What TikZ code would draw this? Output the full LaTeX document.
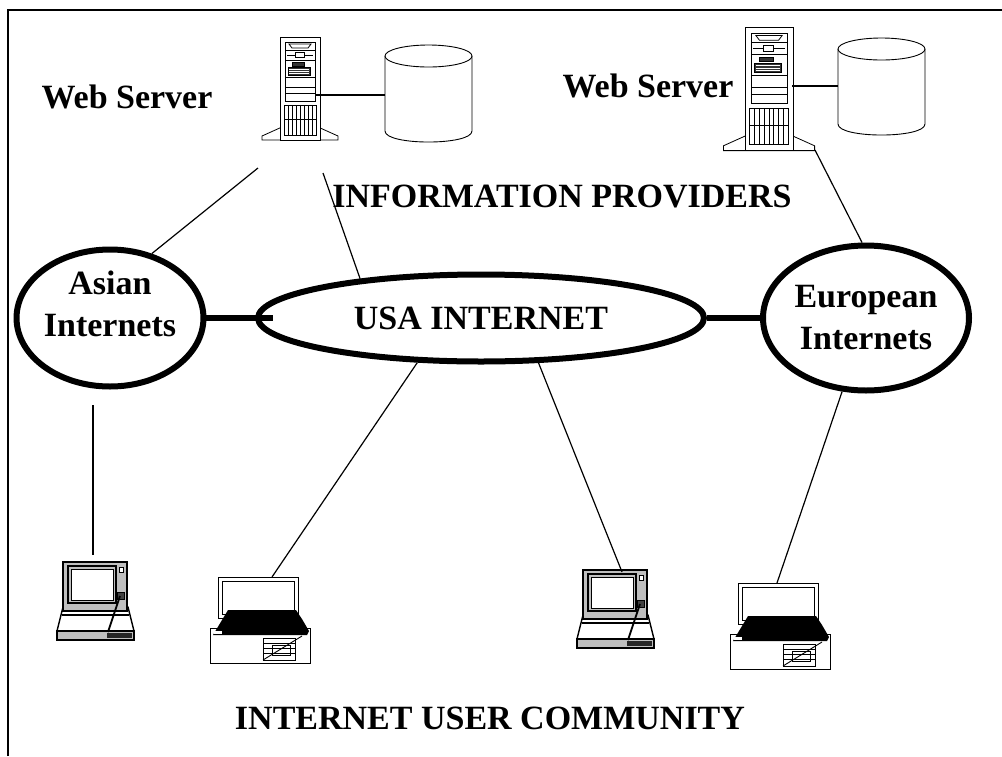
\documentclass[tikz,border=0pt]{standalone}
\usepackage{fontspec}
\setmainfont{Liberation Serif}
\usetikzlibrary{shapes.geometric}
\newcommand{\bigfont}{\bfseries\fontsize{34}{42}\selectfont}
% tower server, #1 = top left corner, #2 = scale
\newcommand{\webserver}[2]{
  \begin{scope}[shift={#1}, scale=#2, line width=0.8pt]
    \draw[fill=white] (2,90) -- (-18,99) -- (-18,103) -- (58,103) -- (58,99) -- (38,90);
    \draw[fill=white] (0,0) rectangle (40,103);
    \draw (5,5) rectangle (35,64);
    \foreach \y in {13,23,40,50,56} \draw (5,\y) -- (35,\y);
    \draw (9,7) -- (31,7) -- (28,11) -- (12,11) -- cycle;
    \draw (7,18) -- (33,18);
    \draw[fill=white] (15,15.5) rectangle (24,20.5);
    \draw[fill=black!80] (12,25) rectangle (24,29);
    \draw[fill=black!80] (8,30) rectangle (30,38);
    \foreach \y in {32,34,36} \draw[white, line width=0.4pt] (9,\y) -- (29,\y);
    \draw[fill=white] (4,68) rectangle (36,98);
    \foreach \x in {8,12,...,32} \draw (\x,68) -- (\x,98);
    \draw (4,82) -- (36,82);
  \end{scope}
}
% disk cylinder, #1 = top left corner, #2 = width, #3 = height
\newcommand{\datastore}[3]{
  \begin{scope}[shift={#1}, line width=0.9pt]
    \draw[fill=white] (0,11) -- (0,#3-11) .. controls (0,#3+3.7) and (#2,#3+3.7) .. (#2,#3-11) -- (#2,11);
    \draw[fill=white] (#2/2,11) ellipse [x radius=#2/2, y radius=11];
  \end{scope}
}
% notebook, #1 = top left corner of the lid
\newcommand{\laptop}[1]{
  \begin{scope}[shift={#1}, line width=1pt]
    \draw[fill=white, line width=1.4pt] (0,45) -- (65,45) -- (71,69) -- (-6,69) -- cycle;
    \draw[line width=1.6pt] (-1,53) -- (66,53);
    \draw[fill=black!25, line width=1.4pt] (0,0) rectangle (64,49);
    \draw[line width=1.4pt] (5,4) rectangle (53,41);
    \draw[fill=white] (8,7) rectangle (50,38);
    \draw[fill=white] (56,5) rectangle (60,10);
    \draw[fill=black!75] (54,30) rectangle (61,37);
    \draw[fill=black!25, line width=1.4pt] (-6,69) rectangle (71,78);
    \fill[black!85] (44,71) rectangle (69,76);
    \draw[line width=1.8pt] (57,34) -- (45,70);
  \end{scope}
}
% desk computer, #1 = top left corner of the case
\newcommand{\desktop}[1]{
  \begin{scope}[shift={#1}, line width=0.9pt]
    \draw[fill=white] (0,0) rectangle (100,35);
    \draw[fill=white] (8,-51) rectangle (88,-10);
    \draw (12,-47) rectangle (84,-14);
    \fill (18,-18) -- (86,-18) -- (92,-9) -- (99,3) -- (97,7) -- (3,7) -- cycle;
    \fill[white] (4,3) rectangle (12,5.5);
    \draw (53,10) rectangle (85,32);
    \foreach \y in {15,20,25} \draw (53,\y) -- (85,\y);
    \draw (62,17) rectangle (80,27);
    \draw (53,32) -- (92,8);
  \end{scope}
}
\begin{document}
\begin{tikzpicture}[x=1pt, y=-1pt,
  net/.style={draw, ellipse, line width=6pt, inner sep=0pt, align=center, fill=white, font=\bigfont},
  caption/.style={font=\bigfont},
  trunk/.style={line width=6pt},
  link/.style={line width=1.2pt}]
  \useasboundingbox (0,0) rectangle (1002,756);
  \draw[line width=1.5pt] (8,756) -- (8,10) -- (1002,10);

  % providers
  \webserver{(280,37)}{1}
  \webserver{(745,27)}{1.2}
  \datastore{(385,45)}{87}{97}
  \datastore{(838,38)}{87}{97}
  \coordinate (srvLport) at (315,95);
  \coordinate (dbLport) at (385,95);
  \coordinate (srvRport) at (792,86);
  \coordinate (dbRport) at (838,86);
  \draw[link] (srvLport) -- (dbLport);
  \draw[link] (srvRport) -- (dbRport);

  % users
  \laptop{(63,562)}
  \laptop{(583,570)}
  \desktop{(210,628)}
  \desktop{(730,634)}

  \node[caption] (wsleft) at (127,97) {Web Server};
  \node[caption] (wsright) at (648,86) {Web Server};
  \node[caption] (providers) at (562,196) {INFORMATION PROVIDERS};
  \node[caption] (community) at (490,718) {INTERNET USER COMMUNITY};

  % backbones
  \node[net, minimum width=182pt, minimum height=137pt, text depth=28pt] (asian) at (110,318) {Asian\\Internets};
  \node[net, minimum width=446pt, minimum height=87pt] (usa) at (481,318) {USA INTERNET};
  \node[net, minimum width=206pt, minimum height=145pt] (europe) at (866,318) {European\\Internets};
  \draw[trunk] (asian.east) -- ([xshift=18pt]usa.west);
  \draw[trunk] (usa.east) -- ([xshift=6pt]europe.west);

  \coordinate (srvLfoot) at (258,168);
  \coordinate (srvLfoot2) at (323,173);
  \coordinate (srvRfoot) at (815,150);
  \coordinate (asianbelow) at (93,405);
  \coordinate (lapAtop) at (93,555);
  \coordinate (deskAtop) at (272,577);
  \coordinate (lapBtop) at (622,572);
  \coordinate (deskBtop) at (777,583);
  \draw[link] (asian.57) -- (srvLfoot);
  \draw[link] (usa.162) -- (srvLfoot2);
  \draw[link] (europe.93) -- (srvRfoot);
  \draw[link] (asianbelow) -- (lapAtop);
  \draw[link] (usa.215) -- (deskAtop);
  \draw[link] (usa.322) -- (lapBtop);
  \draw[link] (europe.252) -- (deskBtop);
\end{tikzpicture}
\end{document}
